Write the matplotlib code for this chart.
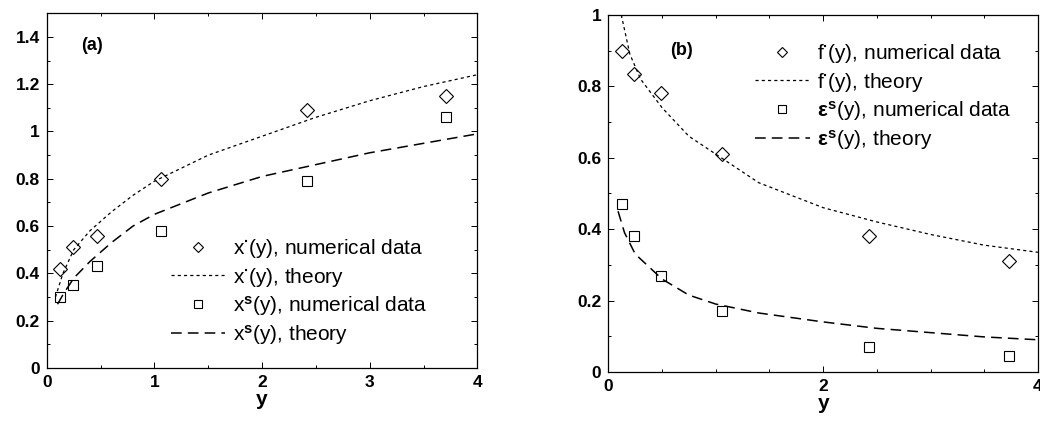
import numpy as np
import matplotlib
matplotlib.use("Agg")
import matplotlib.pyplot as plt
from matplotlib.ticker import MultipleLocator
from matplotlib.legend_handler import HandlerLine2D

plt.rcParams['font.family'] = ['Liberation Sans', 'DejaVu Sans']
plt.rcParams['font.weight'] = 'bold'
plt.rcParams['mathtext.fontset'] = 'custom'
plt.rcParams['mathtext.rm'] = 'Liberation Sans'
plt.rcParams['mathtext.it'] = 'Liberation Sans'
plt.rcParams['mathtext.bf'] = 'Liberation Sans:bold'

# ---- panel (a) data ----
y_data = [0.12, 0.24, 0.47, 1.06, 2.42, 3.71]
xstar_data = [0.42, 0.51, 0.56, 0.80, 1.09, 1.15]
xs_data = [0.30, 0.35, 0.43, 0.58, 0.79, 1.06]

y_xstar_th = [0.08, 0.15, 0.25, 0.4, 0.6, 0.8, 1.0, 1.5, 2.0, 2.5, 3.0, 3.5, 4.0]
xstar_th = [0.30, 0.40, 0.50, 0.58, 0.66, 0.73, 0.79, 0.90, 0.98, 1.06, 1.13, 1.19, 1.24]
y_xs_th = [0.1, 0.15, 0.25, 0.4, 0.6, 0.8, 1.0, 1.5, 2.0, 2.5, 3.0, 3.5, 4.0]
xs_th = [0.27, 0.31, 0.38, 0.45, 0.53, 0.60, 0.65, 0.74, 0.81, 0.86, 0.91, 0.95, 0.99]

# ---- panel (b) data ----
y_data_b = [0.13, 0.24, 0.49, 1.06, 2.43, 3.73]
fstar_data = [0.90, 0.835, 0.78, 0.61, 0.38, 0.31]
eps_data = [0.47, 0.38, 0.27, 0.17, 0.07, 0.045]

y_fstar_th = [0.12, 0.2, 0.3, 0.5, 0.75, 1.0, 1.4, 2.0, 2.5, 3.0, 3.5, 4.0]
fstar_th = [1.0, 0.89, 0.82, 0.74, 0.66, 0.61, 0.53, 0.46, 0.42, 0.385, 0.355, 0.335]
y_eps_th = [0.09, 0.15, 0.25, 0.5, 0.75, 1.0, 1.4, 2.0, 2.5, 3.0, 3.5, 4.0]
eps_th = [0.45, 0.39, 0.33, 0.26, 0.215, 0.19, 0.165, 0.14, 0.122, 0.11, 0.098, 0.09]


# legend marker sits at the right end of the handle, next to the text
class RightMarker(HandlerLine2D):
    def get_xdata(self, legend, xdescent, ydescent, width, height, fontsize):
        xdata, _ = super().get_xdata(legend, xdescent, ydescent, width, height, fontsize)
        return xdata, np.array([-xdescent + width - 0.25 * fontsize])


fig = plt.figure(figsize=(10.4, 4.26), dpi=100)
axa = fig.add_axes([0.045, 0.136, 0.414, 0.833])
axb = fig.add_axes([0.585, 0.127, 0.413, 0.838])


def style(ax):
    ax.tick_params(direction='in', top=True, right=True, which='both',
                   labelsize=12.5, width=0.7, pad=5)
    ax.tick_params(which='major', length=4)
    ax.tick_params(which='minor', length=2)
    for sp in ax.spines.values():
        sp.set_linewidth(0.9)
    ax.set_xlabel('y', fontsize=15, fontweight='bold', labelpad=0)


dot_style = dict(color='black', lw=0.9, dashes=(2.5, 2.5))
dash_style = dict(color='black', lw=1.1, dashes=(7, 4))
mk = dict(ls='none', mfc='none', mec='black', mew=0.8)
leg_kw = dict(frameon=False, prop={'size': 15, 'weight': 'normal'},
              handlelength=2.6, handletextpad=0.35,
              labelspacing=0.25, markerscale=0.75, borderpad=0.0)

# panel (a)
pa1, = axa.plot(y_data, xstar_data, marker='D', ms=7, label=r'x$^{\bullet}$(y), numerical data', **mk)
axa.plot(y_xstar_th, xstar_th, label=r'x$^{\bullet}$(y), theory', **dot_style)
pa2, = axa.plot(y_data, xs_data, marker='s', ms=7, label=r'x$^{\mathbf{s}}$(y), numerical data', **mk)
axa.plot(y_xs_th, xs_th, label=r'x$^{\mathbf{s}}$(y), theory', **dash_style)
axa.set_xlim(0, 4)
axa.set_ylim(0, 1.5)
axa.set_yticks([0, 0.2, 0.4, 0.6, 0.8, 1, 1.2, 1.4])
axa.set_yticklabels(['0', '0.2', '0.4', '0.6', '0.8', '1', '1.2', '1.4'])
axa.yaxis.set_minor_locator(MultipleLocator(0.1))
axa.set_xticks([0, 1, 2, 3, 4])
axa.set_xticklabels(['0', '1', '2', '3', '4'])
axa.xaxis.set_minor_locator(MultipleLocator(0.5))
style(axa)
axa.text(0.08, 0.91, '(a)', transform=axa.transAxes, fontsize=13,
         fontweight='bold', va='center')
axa.legend(loc='lower left', bbox_to_anchor=(0.265, 0.03),
           handler_map={pa1: RightMarker(), pa2: RightMarker()}, **leg_kw)

# panel (b)
pb1, = axb.plot(y_data_b, fstar_data, marker='D', ms=7, label=r'f$^{\bullet}$(y), numerical data', **mk)
axb.plot(y_fstar_th, fstar_th, label=r'f$^{\bullet}$(y), theory', **dot_style)
pb2, = axb.plot(y_data_b, eps_data, marker='s', ms=7, label=r'$\varepsilon^{\mathbf{s}}$(y), numerical data', **mk)
axb.plot(y_eps_th, eps_th, label=r'$\varepsilon^{\mathbf{s}}$(y), theory', **dash_style)
axb.set_xlim(0, 4)
axb.set_ylim(0, 1)
axb.set_xticks([0, 2, 4])
axb.set_xticklabels(['0', '2', '4'])
axb.xaxis.set_minor_locator(MultipleLocator(0.5))
axb.set_yticks([0, 0.2, 0.4, 0.6, 0.8, 1])
axb.set_yticklabels(['0', '0.2', '0.4', '0.6', '0.8', '1'])
axb.yaxis.set_minor_locator(MultipleLocator(0.1))
style(axb)
axb.text(0.144, 0.90, '(b)', transform=axb.transAxes, fontsize=13,
         fontweight='bold', va='center')
axb.legend(loc='upper left', bbox_to_anchor=(0.318, 0.952),
           handler_map={pb1: RightMarker(), pb2: RightMarker()}, **leg_kw)

fig.savefig('out.png', dpi=100)
